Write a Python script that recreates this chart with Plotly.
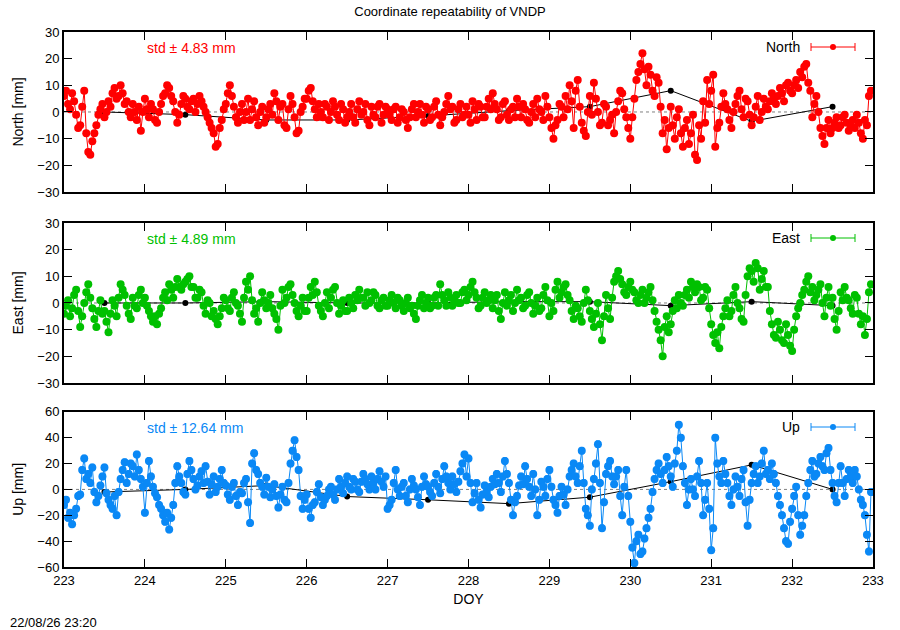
import numpy as np
import plotly.graph_objects as go
from plotly.subplots import make_subplots

# epoch sampling: 40 epochs per day, starting DOY 223.000
doy_start = 223.0
doy_step = 0.025

# North residuals [mm], one row per day (223 .. 232)
north = [
    6, 8, 3, 1, 7, 4, -1, -6, -5, 2, 8, -8, -15, -16, -11, -8, -5, -1, 1, 3, -2, 0, 4, 2, 7, 9, 5, 6, 10, 7, 3, 4, 0, -2, 3, 0, -3, 2, -7, 0,
    5, 1, -2, 3, 1, -3, -4, 0, 3, 6, 7, 10, 9, 6, 4, 0, -4, -1, 3, 6, 5, 2, 1, 4, 5, 0, 3, 6, 4, 2, 0, -2, -4, -6, -8, -13, -12, -6, -3, 1,
    3, 7, 10, 6, 2, -2, -4, 0, 3, -3, 0, 5, -3, 1, 4, -2, -5, 0, 2, -4, -2, 1, 3, -1, 7, 4, -3, 2, 3, -5, -6, 1, 6, 3, -2, -8, -7, 0, 2, 5,
    5, 8, 9, 4, 1, -2, 3, 0, -2, 3, 2, -3, 0, 4, 2, -1, -3, 3, 1, -4, -2, 0, 3, -2, -4, 1, 4, -1, 0, 3, -3, -5, 2, -1, -2, 2, 3, -4, -1, 2,
    1, -1, -3, 1, 2, -4, -2, 1, 0, -3, -6, -2, 1, 3, -2, 0, 3, -1, -4, 2, 1, -3, -2, 2, 4, -1, -5, -2, 0, 3, 6, 1, 2, -4, -3, 1, 3, -2, -1, 2,
    -1, -4, 4, 1, -3, 3, 2, -2, -2, 2, 5, 1, 7, 3, 1, -3, -2, 3, 4, -1, -3, 1, 2, -2, 5, 2, -2, 3, 1, -3, -4, 0, 3, -2, 5, 1, 0, -3, 6, 2,
    -2, -6, -10, -5, -3, 3, 2, -2, 6, 1, 10, 4, -6, 8, 12, 2, -4, -7, -9, 0, 6, -1, 11, 5, 0, -5, -4, 3, 2, -5, -3, -1, -8, 0, 4, 8, 7, 1, -2, -6,
    -10, -2, 5, 12, 15, 18, 22, 16, 10, 17, 14, 8, 6, 13, 11, 2, -8, -3, -14, -6, 2, -5, -10, -2, 1, -8, -13, -6, -3, -12, -8, -1, -16, -18, -5, -10, 4, -4, 12, 3,
    8, 14, -13, -6, -4, 2, 7, 3, 1, -3, -6, 0, 3, 6, 8, 1, -2, 5, 4, -1, -5, -2, 2, 6, -3, 0, 5, 2, 1, 4, 7, 5, 3, 6, 9, 7, 4, 10, 11, 8,
    7, 10, 12, 9, 15, 13, 17, 18, 11, 8, -2, 3, 6, 0, -6, -9, -12, -6, -3, -8, -6, -4, -2, -6, -5, -2, -1, -4, -7, -5, -3, -6, -1, -4, -8, -10, -3, -5, 6, 8,
]

# East residuals [mm]
east = [
    -4, -1, 1, -5, -2, 3, 5, -3, -9, -5, 0, 4, 7, 2, -2, -6, -9, -3, 1, -4, -3, -7, -11, -4, 1, -1, -5, 2, 7, 5, 3, -1, -4, -6, 2, -1, -2, 3, 5, 0,
    2, -1, -3, -5, -7, -5, -8, -4, -2, 2, 4, 1, 7, 5, 2, 6, 9, 6, 5, 7, 8, 9, 10, 6, 6, 2, 2, 5, 4, -1, -4, 1, 0, -5, -3, -6, -8, -5, -2, 2,
    1, -2, -3, 2, 4, 0, -1, -4, -7, 2, 8, 5, 10, 1, -4, -2, -7, 0, 4, 1, -2, 0, 3, -2, -4, -6, -10, -1, 5, 0, 2, 6, 7, 3, 0, -3, -5, -1, 2, -3,
    -3, 2, 6, 3, 8, 4, -1, -3, -5, 0, 4, -2, 2, 5, 6, 0, -4, -1, 1, -3, -3, 2, 0, -2, 3, 1, 5, 2, 2, -1, 4, 0, 1, 4, 3, -1, -2, 1, 2, -1,
    -1, 1, 3, 0, -2, 2, 1, -1, -3, 0, 2, -2, -1, -4, -6, -1, 1, 3, -2, 0, 2, -2, -1, 2, 3, -1, 7, 3, 1, -1, 4, 2, -1, 1, 3, 0, 0, 4, 5, 1,
    3, 6, 8, 4, 2, -2, -1, 2, 4, 0, 1, 3, -2, 1, 3, -3, -6, 0, 4, -1, 1, 3, -3, 0, 5, 1, 2, -2, -1, 3, 4, 0, -4, -1, 2, -3, -2, 3, 6, 1,
    -5, 0, -3, 5, 8, 2, 4, 6, 7, 3, 1, -3, -6, -1, -2, -5, -7, 0, 5, 1, -3, -6, -9, -4, 0, -8, -14, -5, 3, -2, -6, 2, 8, 10, 12, 9, 7, 4, 3, 6,
    8, 5, 4, 1, 0, 3, 5, 0, 2, 4, 6, 1, -3, -7, -10, -14, -20, -9, -5, -11, -8, -3, 1, -2, 3, 0, -1, 3, 5, 2, 8, 6, 4, 7, 6, 1, 2, 6, 5, -2,
    -8, -12, -15, -11, -17, -9, -5, -2, 1, -5, -3, 3, 6, 0, -2, -6, -7, 3, 10, 13, 12, 8, 15, 13, 5, 9, 12, 6, 6, -3, -8, -12, -13, -7, -10, -14, -15, -8, -12, -16,
    -18, -10, -5, -2, 0, 3, 5, 8, 10, 4, 6, 1, 3, 5, 7, 0, -5, 2, 6, -1, 2, -6, -10, -3, 4, 1, 6, 2, 1, -2, -4, 3, 2, -4, -8, -5, -12, -6, 4, 7,
]

# Up residuals [mm]
up = [
    -12, -8, -22, -18, -27, -20, -15, -5, -4, 15, 24, 8, 12, 5, 17, -2, -10, -5, 3, 10, 17, -3, -8, -12, -15, -5, -20, -2, 8, 15, 21, 5, 12, 20, 18, 10, 27, 15, 8, 2,
    -18, 5, 22, 10, 2, -3, -6, -12, -15, -20, -25, -18, -31, -22, -12, 5, 18, 10, 5, -2, -4, 12, 22, 15, 8, 0, 3, 10, 14, 5, 18, 6, -4, 4, 10, -2, 2, 8, 15, 5,
    3, -4, -8, 2, 5, -5, -12, -2, -3, 5, 8, -10, -26, 20, 28, 15, 12, 5, 2, -4, 9, 2, -6, 0, 4, -5, -14, -4, 2, -8, -10, 5, 20, 30, 38, 25, 15, -5, -15, -8,
    -4, -15, -22, -12, -10, -2, 4, -6, -12, -8, -5, 0, 2, -4, -8, 0, 8, 2, -3, 5, 10, 2, 0, 8, 6, 0, -2, 6, 12, 8, 4, 0, 10, 5, 0, 8, 14, 6, 2, 10,
    -15, -12, -8, 5, 15, 0, -5, 2, 5, -5, -10, 0, 8, 3, 0, -6, -12, 2, 10, 4, 2, -2, -5, 5, 12, 2, -3, 8, 18, 10, 5, 0, 10, 4, -2, 6, 14, 20, 27, 10,
    24, 5, -10, -3, 5, -8, -14, -4, 3, -2, -6, 2, 8, 4, 12, 5, -2, 10, 22, 12, 5, -8, -20, -10, -5, 3, 10, 4, 18, 8, 2, -5, 12, 0, -20, -8, 6, 2, -5, 8,
    15, 2, -8, -12, -18, -5, 2, -4, -12, 0, 10, 15, 20, 10, 5, 18, 30, 5, -15, -20, -28, 0, 8, 20, 35, 5, -30, -10, 12, 18, 22, 10, 4, 10, 15, -5, -20, 2, 15, -5,
    -25, -45, -57, -40, -35, -50, -48, -38, -30, -22, -15, -2, 8, 15, 20, 12, 5, 15, 25, 18, 10, 2, 20, 30, 50, 40, 18, 5, -12, 0, 8, 0, -5, 10, 22, 5, -20, -8, 5, -15,
    -47, -30, 40, 20, 10, 5, 22, 12, 5, -5, -12, 0, 10, 2, -5, 8, 15, -10, -28, -8, 5, 12, 18, 5, 10, 20, 30, 12, 15, 8, 20, 12, 5, -5, -12, -20, -30, -40, -42, -25,
    -15, -5, 2, -20, -35, -28, -20, -5, 5, 15, 22, 10, 12, 20, 25, 18, 15, 28, 32, 15, 5, -5, -10, 5, 18, 5, -5, 8, 15, 10, 5, 15, 10, 0, -8, -12, -20, -35, -48, -2,
]

# formal errors [mm]
sigma_ne = 1.0
sigma_up = 2.5

# daily solutions (noon epochs)
daily_doy = [223.5, 224.5, 225.5, 226.5, 227.5, 228.5, 229.5, 230.5, 231.5, 232.5]
daily_north = [0, -1, -3, -3, -1.5, 0.5, 2, 8, -3.5, 2]
daily_east = [0, 0, 0.5, 0, 0, 0.5, 0.5, -1, 0.5, -1]
daily_up = [-2, 0, 3, -5.5, -8, -11, -6, 6, 19, 0]

std_text = ["4.83", "4.89", "12.64"]
comp_names = ["North", "East", "Up"]
comp_colors = ["#ff0000", "#00c000", "#0a88f5"]

fig = make_subplots(rows=3, cols=1)

series = [north, east, up]
sigmas = [sigma_ne, sigma_ne, sigma_up]
dailies = [daily_north, daily_east, daily_up]

for i in range(3):
    # daily solution first, so the epoch cloud sits on top of it
    fig.add_trace(go.Scatter(
        x=daily_doy, y=dailies[i], mode="lines+markers",
        line=dict(color="black", width=1),
        marker=dict(color="black", size=6),
        showlegend=False, name=comp_names[i] + " daily"
    ), row=i + 1, col=1)
    doy = np.round(doy_start + doy_step * np.arange(len(series[i])), 3)
    fig.add_trace(go.Scatter(
        x=doy, y=series[i], mode="lines+markers",
        line=dict(color=comp_colors[i], width=1),
        marker=dict(color=comp_colors[i], size=8, symbol="circle"),
        error_y=dict(type="constant", value=sigmas[i], color=comp_colors[i],
                     thickness=1, width=2),
        showlegend=False, name=comp_names[i]
    ), row=i + 1, col=1)

# panel domains (paper coords)
domains = [[0.701, 1.0], [0.344, 0.643], [0.0, 0.29]]
yranges = [[-30, 30], [-30, 30], [-60, 60]]
ydticks = [10, 10, 20]
ytitles = ["North [mm]", "East [mm]", "Up [mm]"]

axis_common = dict(showline=True, linecolor="black", linewidth=2, mirror="allticks",
                   ticks="inside", ticklen=8, tickcolor="black", tickwidth=1,
                   showgrid=False, zeroline=False,
                   tickfont=dict(size=13, color="black"))

for i in range(3):
    fig.update_xaxes(range=[223, 233], dtick=1, tick0=223,
                     showticklabels=(i == 2), row=i + 1, col=1, **axis_common)
    fig.update_yaxes(range=yranges[i], dtick=ydticks[i], domain=domains[i],
                     title=dict(text=ytitles[i], standoff=10, font=dict(size=14)),
                     row=i + 1, col=1, **axis_common)
fig.update_xaxes(title=dict(text="DOY", font=dict(size=14), standoff=8), row=3, col=1)

shapes = []
annotations = []
yrefs = ["y", "y2", "y3"]
xrefs = ["x", "x2", "x3"]
for i in range(3):
    # dotted zero line
    shapes.append(dict(type="line", xref=xrefs[i] + " domain", yref=yrefs[i],
                       x0=0, x1=1, y0=0, y1=0,
                       line=dict(color="#808080", width=1, dash="dot"), layer="below"))

# legend samples and std labels (pixel positions converted to paper)
def px(xp):
    return (xp - 64) / 809.0

def py(yp):
    return (567 - yp) / 535.0

legend_y = [47, 238, 427]
std_y = [48, 239, 428]
for i in range(3):
    c = comp_colors[i]
    yl = py(legend_y[i])
    annotations.append(dict(text=comp_names[i], xref="paper", yref="paper",
                            x=px(802), y=yl, xanchor="right", yanchor="middle",
                            showarrow=False, font=dict(size=14, color="black")))
    shapes.append(dict(type="line", xref="paper", yref="paper", x0=px(811), x1=px(855),
                       y0=yl, y1=yl, line=dict(color=c, width=1)))
    for xe in (811, 855):
        shapes.append(dict(type="line", xref="paper", yref="paper", x0=px(xe), x1=px(xe),
                           y0=yl - 4 / 535, y1=yl + 4 / 535, line=dict(color=c, width=1)))
    shapes.append(dict(type="circle", xref="paper", yref="paper",
                       x0=px(830), x1=px(836), y0=yl - 3 / 535, y1=yl + 3 / 535,
                       fillcolor=c, line=dict(color=c, width=0)))
    annotations.append(dict(text="std \u00b1 " + std_text[i] + " mm", xref="paper",
                            yref="paper", x=px(145), y=py(std_y[i]), xanchor="left",
                            yanchor="middle", showarrow=False,
                            font=dict(size=14, color=c)))

annotations.append(dict(text="22/08/26 23:20", xref="paper", yref="paper",
                        x=px(8), y=py(622), xanchor="left", yanchor="middle",
                        showarrow=False, font=dict(size=13, color="black")))

fig.update_layout(
    width=900, height=630,
    margin=dict(l=64, r=27, t=32, b=63),
    paper_bgcolor="white", plot_bgcolor="white",
    font=dict(family="Liberation Sans, Arial, sans-serif", color="black"),
    title=dict(text="Coordinate repeatability of VNDP", x=0.5, xanchor="center",
               y=1 - 11 / 630, yanchor="middle", font=dict(size=13)),
    shapes=shapes, annotations=annotations,
    showlegend=False,
)

# drop the default page margin so the 900x630 figure fills the window
fig.write_html("out.html", config={"displayModeBar": False},
               post_script="document.body.style.margin='0';")
